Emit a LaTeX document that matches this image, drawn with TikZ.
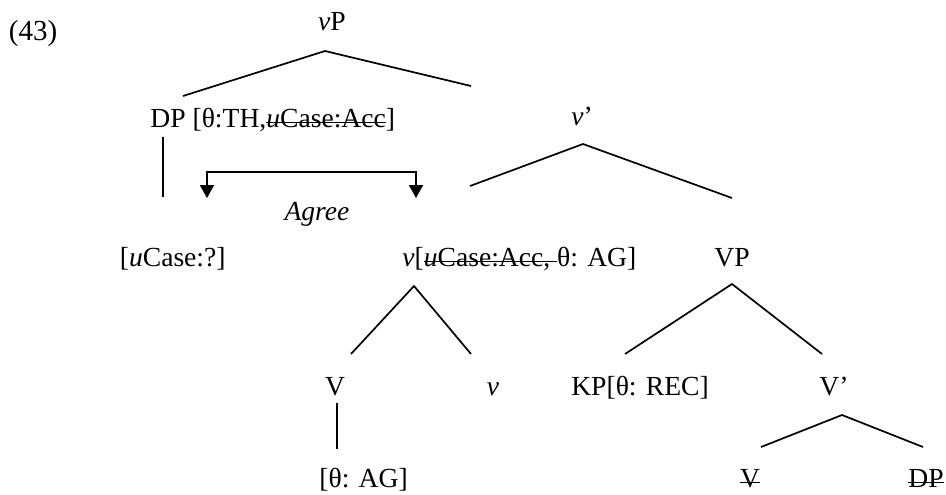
\documentclass[tikz,border=0pt]{standalone}
\usepackage{fontspec}
\setmainfont{Liberation Serif}
\usetikzlibrary{arrows.meta}

% struck-out feature text
\newsavebox{\strikebox}
\newcommand{\struck}[1]{\sbox{\strikebox}{#1}\rlap{\usebox{\strikebox}}\rule[0.3ex]{\wd\strikebox}{0.5pt}}

\begin{document}
\begin{tikzpicture}[x=0.5pt,y=-0.5pt,
  every node/.style={inner sep=0pt,anchor=base,font=\fontsize{13.8}{16}\selectfont},
  branch/.style={line width=0.85pt},
  agree/.style={line width=0.85pt,{Triangle[width=7pt,length=6.5pt]}-{Triangle[width=7pt,length=6.5pt]}}]
\useasboundingbox (0,0) rectangle (946,494);
%
\newcommand{\branches}[3]{
  \draw[branch] (#2) -- (#1) -- (#3);
}
%
% labels, row by row
\node (ex) at (33,40) {\fontsize{14.5}{16}\selectfont(43)};
\node (vP) at (332,30) {\textit{v}P};
\node[anchor=base west] (DP) at (150,127) {DP [θ:TH,\struck{\textit{u}Case:Acc}]};
\node (vbar) at (582,125) {\textit{v}’};
\node[anchor=base east] (ucase) at (226,266) {[\textit{u}Case:?]};
\node (agree) at (317,220) {\textit{Agree}};
\node[anchor=base west] (vhead) at (402,266) {\textit{v}[\struck{\textit{u}Case:Acc,\ }θ: AG]};
\node (VP) at (732,266) {VP};
\node (V) at (335,395) {V};
\node (vsmall) at (493,395) {\textit{v}};
\node (KP) at (640,395) {KP[θ: REC]};
\node (Vbar) at (834,395) {V’};
\node[anchor=base west] (theta) at (319,487) {[θ: AG]};
\node (Vcopy) at (750,487) {\struck{V}};
\node[anchor=base east] (DPcopy) at (944,487) {\struck{DP}};
%
% branch points
\coordinate (vP-a) at (325,51);
\coordinate (vP-l) at (183,96);
\coordinate (vP-r) at (471,86);
\coordinate (vbar-a) at (583,144);
\coordinate (vbar-l) at (470,186);
\coordinate (vbar-r) at (732,198);
\coordinate (vhead-a) at (414,286);
\coordinate (vhead-l) at (351,354);
\coordinate (vhead-r) at (471,354);
\coordinate (VP-a) at (732,284);
\coordinate (VP-l) at (625,354);
\coordinate (VP-r) at (822,354);
\coordinate (Vbar-a) at (842,415);
\coordinate (Vbar-l) at (761,447);
\coordinate (Vbar-r) at (923,447);
\coordinate (DP-b) at (163,137);
\coordinate (ucase-t) at (163,197);
\coordinate (V-b) at (337,403);
\coordinate (theta-t) at (337,449);
%
\branches{vP-a}{vP-l}{vP-r}
\branches{vbar-a}{vbar-l}{vbar-r}
\branches{vhead-a}{vhead-l}{vhead-r}
\branches{VP-a}{VP-l}{VP-r}
\branches{Vbar-a}{Vbar-l}{Vbar-r}
\draw[branch] (DP-b) -- (ucase-t);
\draw[branch] (V-b) -- (theta-t);
%
% the Agree relation
\coordinate (ag-l) at (207,198);
\coordinate (ag-r) at (416,198);
\coordinate (ag-top) at (311,172);
\draw[agree] (ag-l) |- (ag-top) -| (ag-r);
\end{tikzpicture}
\end{document}
